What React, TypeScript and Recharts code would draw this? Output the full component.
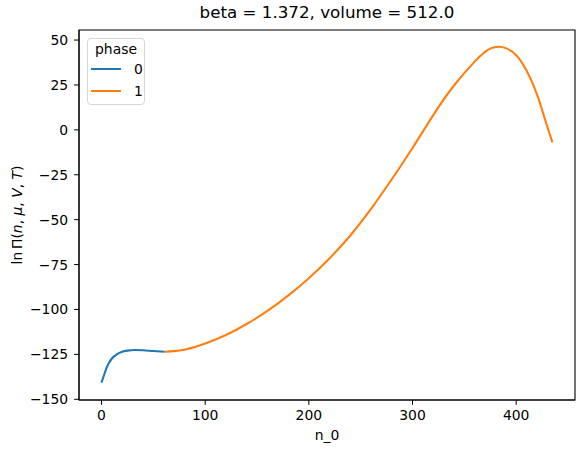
import { LineChart, Line, XAxis, YAxis, ReferenceArea } from 'recharts';

// phase 0 branch
const phase0N = [0, 3, 6, 10, 15, 20, 25, 32, 40, 50, 61];
const phase0Y = [-140.7, -135.5, -131.0, -127.3, -124.8, -123.5, -122.9, -122.6, -122.7, -123.1, -123.5];

// phase 1 branch
const phase1N = [61, 70, 80, 90, 100, 120, 140, 160, 180, 200, 220, 240, 260, 280, 300, 320, 340, 360, 370, 376, 383, 390, 400, 410, 420, 428, 435];
const phase1Y = [-123.5, -123.2, -122.4, -120.9, -119.0, -114.2, -108.1, -100.8, -92.3, -82.6, -71.5, -58.8, -44.0, -27.5, -10.1, 8.2, 24.7, 38.0, 43.4, 45.5, 46.3, 45.5, 41.6, 33.0, 19.9, 5.5, -7.0];

const xTicks = [0, 100, 200, 300, 400];
const yTicks = [-150, -125, -100, -75, -50, -25, 0, 25, 50];
const xDomain = [-21.75, 456.75];
const yDomain = [-150.4, 55.6];

const phases = ['0', '1'];
const COLORS = ['#1f77b4', '#ff7f0e'];

const series0 = phase0N.map((n, i) => ({ n, v: phase0Y[i] }));
const series1 = phase1N.map((n, i) => ({ n, v: phase1Y[i] }));

const FONT = 'DejaVu Sans, sans-serif';
const fmt = (v: number) => String(v).replace('-', '\u2212');

function PhaseLegend() {
  return (
    <div
      style={{
        position: 'absolute',
        left: 87,
        top: 38,
        width: 58,
        height: 67,
        border: '1px solid #d6d6d6',
        borderRadius: 4,
        background: 'rgba(255,255,255,0.8)',
        fontFamily: FONT,
        fontSize: 13.9,
        color: '#000',
        boxSizing: 'border-box',
      }}
    >
      <div style={{ position: 'absolute', top: 2, left: 0, width: '100%', textAlign: 'center' }}>phase</div>
      {phases.map((p, i) => (
        <div key={p} style={{ position: 'absolute', top: 22 + i * 22, left: 3, display: 'flex', alignItems: 'center' }}>
          <div style={{ width: 30, height: 2, background: COLORS[i] }} />
          <span style={{ marginLeft: 13 }}>{p}</span>
        </div>
      ))}
    </div>
  );
}

export default function App() {
  return (
    <div style={{ position: 'absolute', left: 0, top: 0, width: 584, height: 453, background: '#fff' }}>
      <LineChart
        width={584}
        height={453}
        margin={{ top: 30, right: 9, bottom: 23, left: 19 }}
      >
        <XAxis
          dataKey="n"
          type="number"
          domain={xDomain}
          ticks={xTicks}
          tickFormatter={fmt}
          allowDataOverflow
          height={30}
          tickSize={4.9}
          tickMargin={5}
          stroke="#000"
          tick={{ fill: '#000', fontSize: 13.9, fontFamily: FONT }}
        />
        <YAxis
          type="number"
          domain={yDomain}
          ticks={yTicks}
          tickFormatter={fmt}
          allowDataOverflow
          width={60}
          tickSize={4.9}
          tickMargin={6}
          stroke="#000"
          tick={{ fill: '#000', fontSize: 13.9, fontFamily: FONT }}
        />
        <ReferenceArea
          x1={xDomain[0]}
          x2={xDomain[1]}
          y1={yDomain[0]}
          y2={yDomain[1]}
          fill="none"
          fillOpacity={0}
          stroke="#000"
          strokeWidth={1.1}
        />
        <Line data={series0} dataKey="v" type="monotone" stroke={COLORS[0]} strokeWidth={2.1} dot={false} isAnimationActive={false} />
        <Line data={series1} dataKey="v" type="natural" stroke={COLORS[1]} strokeWidth={2.1} dot={false} isAnimationActive={false} />
      </LineChart>
      <PhaseLegend />
      <div
        style={{
          position: 'absolute',
          top: 2,
          left: 79,
          width: 496,
          textAlign: 'center',
          fontFamily: FONT,
          fontSize: 16.7,
          color: '#000',
        }}
      >
        beta = 1.372, volume = 512.0
      </div>
      <div
        style={{
          position: 'absolute',
          top: 427,
          left: 79,
          width: 496,
          textAlign: 'center',
          fontFamily: FONT,
          fontSize: 13.9,
          color: '#000',
        }}
      >
        n_0
      </div>
      <div
        style={{
          position: 'absolute',
          top: 215,
          left: 17,
          transform: 'translate(-50%, -50%) rotate(-90deg)',
          whiteSpace: 'nowrap',
          fontFamily: FONT,
          fontSize: 13.9,
          color: '#000',
        }}
      >
        ln&thinsp;Π(<i>n</i>, <i>μ</i>, <i>V</i>, <i>T</i>)
      </div>
    </div>
  );
}
